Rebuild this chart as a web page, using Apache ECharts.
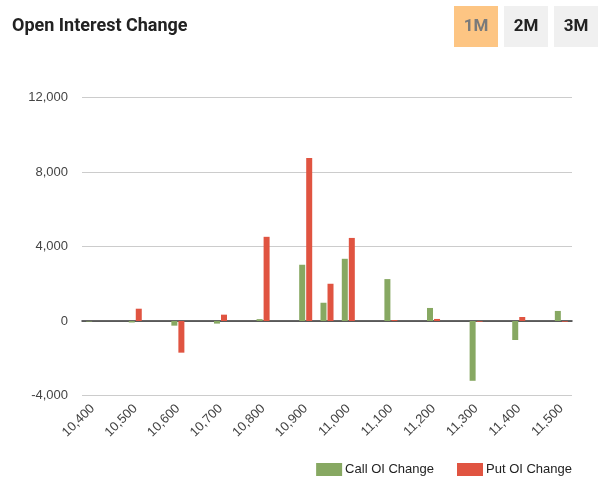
<!DOCTYPE html>
<html>
<head>
<meta charset="utf-8">
<style>
html,body{margin:0;padding:0;background:#fff;}
#chart{width:605px;height:491px;}
</style>
<script src="https://cdn.jsdelivr.net/npm/echarts@6/dist/echarts.min.js"></script>
</head>
<body>
<div id="chart"></div>
<script>
var strikes = [10400,10450,10500,10550,10600,10650,10700,10750,10800,10850,10900,10950,11000,11050,11100,11150,11200,11250,11300,11350,11400,11450,11500];
var callOIChange = [-30,0,-80,0,-250,0,-140,0,100,0,3020,980,3340,0,2250,0,700,0,-3210,0,-1020,0,540];
var putOIChange = [0,0,660,0,-1700,0,340,0,4520,0,8750,2000,4460,0,50,0,110,0,-40,0,215,0,-40];
var rangeButtons = ['1M','2M','3M'];
var seriesNames = ['Call OI Change','Put OI Change'];

var chart = echarts.init(document.getElementById('chart'));
function fmt(v){ return v.toLocaleString('en-US'); }
var FONT = '"Liberation Sans", Arial, sans-serif';

var btnX = [454, 504, 554];
var graphics = [];
rangeButtons.forEach(function(b, i){
  var active = i === 0;
  graphics.push({
    type: 'rect', left: btnX[i], top: 6,
    shape: {width: 44, height: 41},
    style: {fill: active ? '#FDC583' : '#F0F0F0'}
  });
  graphics.push({
    type: 'text', x: btnX[i] + 22, y: 26.5,
    style: {text: b, fill: active ? '#7a7a7a' : '#222', font: 'bold 17px Roboto', align: 'center', verticalAlign: 'middle'}
  });
});

chart.setOption({
  animation: false,
  title: {
    text: 'Open Interest Change', left: 12, top: 17, padding: 0,
    textStyle: {fontFamily: 'Roboto', fontWeight: 'bold', fontSize: 18, color: '#222'}
  },
  graphic: graphics,
  grid: {left: 82, right: 33, top: 97.5, bottom: 95.5, containLabel: false},
  legend: {
    data: seriesNames, right: 33, top: 463, itemWidth: 26, itemHeight: 13, itemGap: 23, padding: 0,
    icon: 'rect',
    textStyle: {fontFamily: FONT, fontSize: 13, color: '#222', padding: [0,0,0,-2]}
  },
  xAxis: {
    type: 'category', data: strikes,
    axisLine: {lineStyle: {color: '#333', width: 1.5}},
    axisTick: {show: false},
    axisLabel: {
      interval: 1, rotate: 45, margin: 11,
      fontFamily: FONT, fontSize: 13, color: '#444',
      formatter: function(v){ return fmt(Number(v)); }
    }
  },
  yAxis: {
    type: 'value', min: -4000, max: 12000, interval: 4000,
    axisLine: {show: false}, axisTick: {show: false},
    splitLine: {lineStyle: {color: '#ccc', width: 1}},
    axisLabel: {margin: 14, fontFamily: FONT, fontSize: 13, color: '#444', formatter: fmt}
  },
  series: [
    {name: seriesNames[0], type: 'bar', data: callOIChange, barWidth: 6, barGap: '17%', itemStyle: {color: '#87A862'}},
    {name: seriesNames[1], type: 'bar', data: putOIChange, barWidth: 6, itemStyle: {color: '#E05441'}}
  ]
});
</script>
</body>
</html>
